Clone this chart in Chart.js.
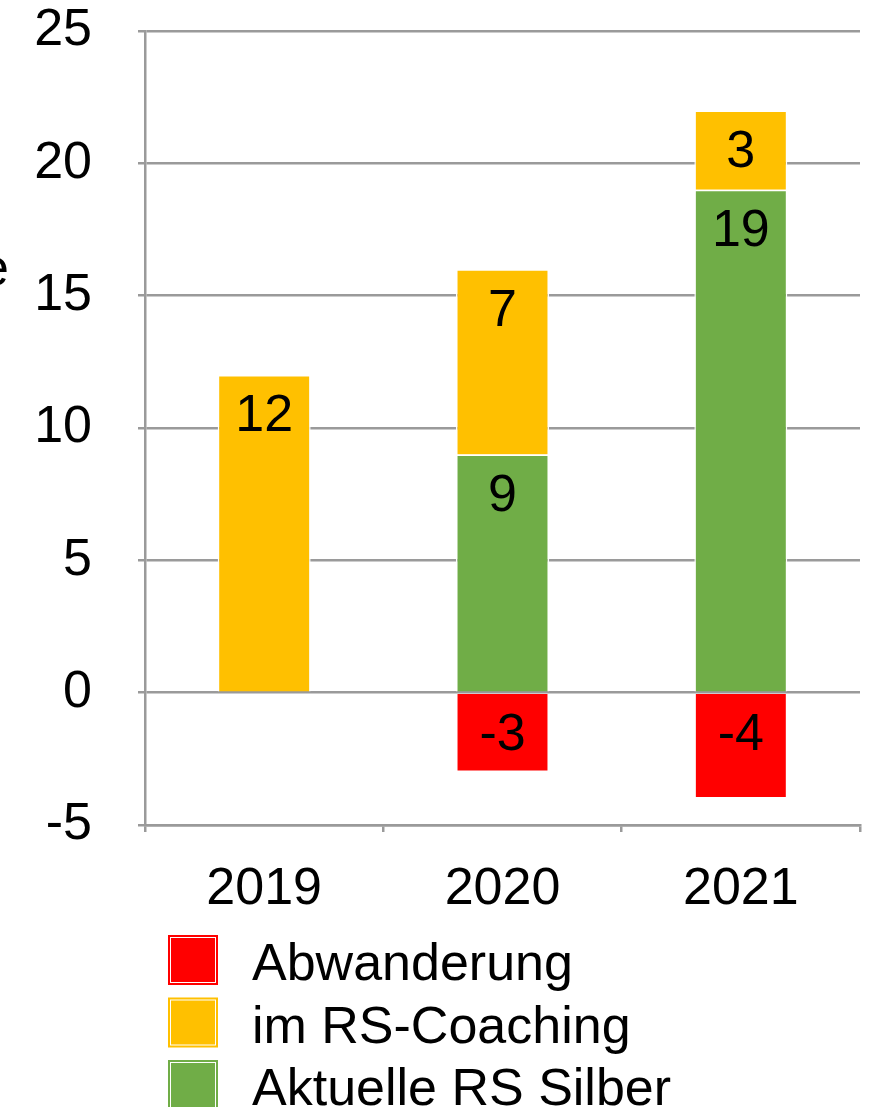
<!DOCTYPE html>
<html>
<head>
<meta charset="utf-8">
<script src="https://cdn.jsdelivr.net/npm/chart.js@4/dist/chart.umd.min.js"></script>
<style>
html,body{margin:0;padding:0;background:#fff;}
#wrap{width:870px;height:1107px;position:relative;}
</style>
</head>
<body>
<div id="wrap"><canvas id="c" width="870" height="1107"></canvas></div>
<script>
const categories = ["2019", "2020", "2021"];
const abwanderung = [null, -3, -4];
const coaching = [12, 7, 3];
const silber = [null, 9, 19];
const seriesNames = ["Abwanderung", "im RS-Coaching", "Aktuelle RS Silber"];
const seriesColors = ["#FF0000", "#FFC000", "#70AD47"];
const yTicks = [-5, 0, 5, 10, 15, 20, 25];
const axisTitle = "Betriebe";

const FONT = '"Liberation Sans", Arial, Helvetica, sans-serif';
const FS = 52;
const GRID = "#9a9a9a";

const labelPlugin = {
  id: 'labels',
  afterDatasetsDraw(chart) {
    const ctx = chart.ctx;
    ctx.save();
    ctx.font = FS + 'px ' + FONT;
    ctx.fillStyle = '#000';
    ctx.textAlign = 'center';
    ctx.textBaseline = 'middle';
    chart.data.datasets.forEach((ds, i) => {
      const meta = chart.getDatasetMeta(i);
      meta.data.forEach((bar, j) => {
        const v = ds.data[j];
        if (v === null || v === undefined) return;
        const top = Math.min(bar.y, bar.base);
        ctx.fillText(String(v), bar.x, top + 42);
      });
    });
    ctx.restore();
  },
  afterDraw(chart) {
    const ctx = chart.ctx;
    ctx.save();
    ctx.font = FS + 'px ' + FONT;
    ctx.fillStyle = '#000';
    ctx.textAlign = 'right';
    ctx.textBaseline = 'alphabetic';
    ctx.fillText(axisTitle, 9, 285);
    const order = [0, 1, 2];
    order.forEach((k, idx) => {
      const y = 935 + idx * 62.5;
      const x = 168;
      ctx.fillStyle = seriesColors[k];
      ctx.fillRect(x, y, 50, 50);
      ctx.strokeStyle = '#fff';
      ctx.lineWidth = 1;
      ctx.strokeRect(x + 2.5, y + 2.5, 45, 45);
      ctx.fillStyle = '#000';
      ctx.textAlign = 'left';
      ctx.fillText(seriesNames[k], 252, y + 45);
    });
    ctx.restore();
  }
};

new Chart(document.getElementById('c'), {
  type: 'bar',
  data: {
    labels: categories,
    datasets: [
      { label: seriesNames[0], data: abwanderung, backgroundColor: seriesColors[0], borderColor: '#fff', borderWidth: 1.5 },
      { label: seriesNames[2], data: silber, backgroundColor: seriesColors[2], borderColor: '#fff', borderWidth: 1.5 },
      { label: seriesNames[1], data: coaching, backgroundColor: seriesColors[1], borderColor: '#fff', borderWidth: 1.5 }
    ]
  },
  options: {
    responsive: false,
    animation: false,
    devicePixelRatio: 1,
    layout: { padding: { top: 31, right: 10, bottom: 187, left: 0 } },
    datasets: { bar: { categoryPercentage: 1, barPercentage: 0.39 } },
    plugins: { legend: { display: false }, tooltip: { enabled: false } },
    scales: {
      x: {
        stacked: true,
        grid: { display: true, drawOnChartArea: false, drawTicks: true, tickLength: 7, color: GRID, lineWidth: 2.5, offset: true },
        border: { display: true, color: GRID, width: 2.5 },
        ticks: { color: '#000', font: { family: FONT, size: FS }, padding: 26 },
        afterFit(s) { s.height = 95; }
      },
      y: {
        stacked: true,
        min: -5, max: 25,
        afterBuildTicks(s) { s.ticks = yTicks.map(v => ({ value: v })); },
        grid: { color: GRID, lineWidth: 2.5, tickLength: 7, drawTicks: true },
        border: { display: true, color: GRID, width: 2.5 },
        ticks: { color: '#000', font: { family: FONT, size: FS }, padding: 46 },
        afterFit(s) { s.width = 145; s.paddingTop = 0; s.paddingBottom = 0; }
      }
    }
  },
  plugins: [labelPlugin]
});
</script>
</body>
</html>
